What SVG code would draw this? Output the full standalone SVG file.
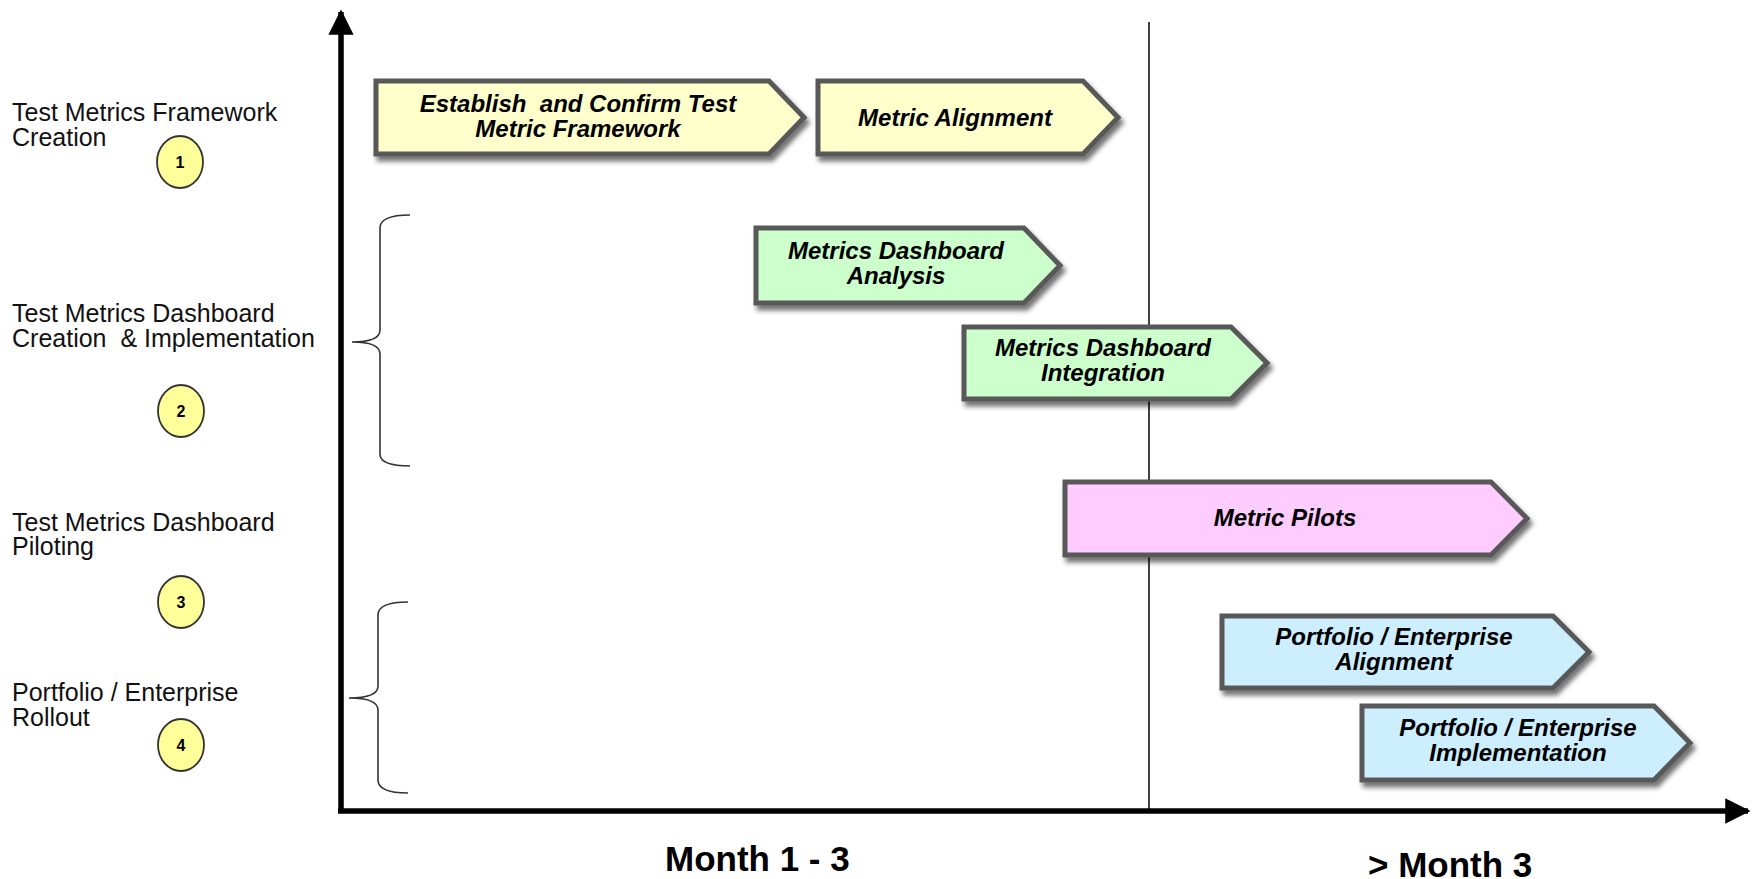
<svg xmlns="http://www.w3.org/2000/svg" width="1758" height="879" viewBox="0 0 1758 879">
<defs>
<filter id="sh" x="-10%" y="-20%" width="130%" height="160%">
<feGaussianBlur in="SourceAlpha" stdDeviation="2.5"/>
<feOffset dx="3" dy="5" result="b"/>
<feComponentTransfer><feFuncA type="linear" slope="0.55"/></feComponentTransfer>
<feMerge><feMergeNode/><feMergeNode in="SourceGraphic"/></feMerge>
</filter>
<marker id="ah" viewBox="0 0 10 10" refX="9" refY="5" markerWidth="4.6" markerHeight="4.6" orient="auto" markerUnits="strokeWidth">
<path d="M0,0 L10,5 L0,10 z" fill="#000"/>
</marker>
</defs>
<style>
.lbl{font-family:"Liberation Sans",Arial,sans-serif;font-size:25px;fill:#111}
.bt{font-family:"Liberation Sans",Arial,sans-serif;font-size:24px;font-weight:bold;font-style:italic;fill:#000;text-anchor:middle}
.box{stroke:#595959;stroke-width:5;stroke-linejoin:miter;filter:url(#sh)}
.y{fill:#ffffcc}.g{fill:#ccffcc}.p{fill:#ffccff}.b{fill:#cceeff}
.num{fill:#ffff99;stroke:#333;stroke-width:1.8}
.nt{font-family:"Liberation Sans",Arial,sans-serif;font-size:16px;font-weight:bold;fill:#000;text-anchor:middle}
.mo{font-family:"Liberation Sans",Arial,sans-serif;font-size:35px;font-weight:bold;fill:#000}
.br{fill:none;stroke:#333;stroke-width:1.6}
</style>
<rect width="1758" height="879" fill="#fff"/>

<g id="connectors">
<line x1="1149" y1="22" x2="1149" y2="811" stroke="#000" stroke-width="1.5"/>
<line x1="341" y1="811" x2="341" y2="12" stroke="#000" stroke-width="5.5" marker-end="url(#ah)"/>
<line x1="338" y1="811" x2="1748" y2="811" stroke="#000" stroke-width="5.5" marker-end="url(#ah)"/>
<path class="br" d="M410,215 Q380,215 380,228 L380,330 Q380,342 352,342 Q380,342 380,354 L380,454 Q380,466 410,466"/>
<path class="br" d="M408,602 Q378,602 378,615 L378,686 Q378,698 349,698 Q378,698 378,710 L378,780 Q378,793 408,793"/>
</g>

<g id="label1"><text class="lbl" x="12" y="121">Test Metrics Framework</text><text class="lbl" x="12" y="146">Creation</text></g>
<g id="label2"><text class="lbl" x="12" y="322">Test Metrics Dashboard</text><text class="lbl" x="12" y="347" xml:space="preserve">Creation  &amp; Implementation</text></g>
<g id="label3"><text class="lbl" x="12" y="531">Test Metrics Dashboard</text><text class="lbl" x="12" y="555">Piloting</text></g>
<g id="label4"><text class="lbl" x="12" y="701">Portfolio / Enterprise</text><text class="lbl" x="12" y="726">Rollout</text></g>

<g id="num1"><ellipse class="num" cx="180" cy="162" rx="23" ry="26"/><text class="nt" x="180" y="168">1</text></g>
<g id="num2"><ellipse class="num" cx="181" cy="411" rx="23" ry="26"/><text class="nt" x="181" y="417">2</text></g>
<g id="num3"><ellipse class="num" cx="181" cy="602" rx="23" ry="26"/><text class="nt" x="181" y="608">3</text></g>
<g id="num4"><ellipse class="num" cx="181" cy="745" rx="23" ry="26"/><text class="nt" x="181" y="751">4</text></g>

<g id="box1"><polygon class="box y" points="376,81 769,81 804,117.5 769,154 376,154"/>
<text class="bt" x="578" y="112" xml:space="preserve">Establish  and Confirm Test</text><text class="bt" x="578" y="137">Metric Framework</text></g>
<g id="box2"><polygon class="box y" points="818,81 1083,81 1118,117.5 1083,154 818,154"/>
<text class="bt" x="955" y="126">Metric Alignment</text></g>
<g id="box3"><polygon class="box g" points="756,228 1024,228 1060,265.5 1024,303 756,303"/>
<text class="bt" x="896" y="259">Metrics Dashboard</text><text class="bt" x="896" y="284">Analysis</text></g>
<g id="box4"><polygon class="box g" points="964,327 1231,327 1267,363 1231,399 964,399"/>
<text class="bt" x="1103" y="356">Metrics Dashboard</text><text class="bt" x="1103" y="381">Integration</text></g>
<g id="box5"><polygon class="box p" points="1065,482 1491,482 1527,518.5 1491,555 1065,555"/>
<text class="bt" x="1285" y="526">Metric Pilots</text></g>
<g id="box6"><polygon class="box b" points="1222,616 1553,616 1589,652 1553,688 1222,688"/>
<text class="bt" x="1394" y="645">Portfolio / Enterprise</text><text class="bt" x="1394" y="670">Alignment</text></g>
<g id="box7"><polygon class="box b" points="1362,706 1654,706 1690,743 1654,780 1362,780"/>
<text class="bt" x="1518" y="736">Portfolio / Enterprise</text><text class="bt" x="1518" y="761">Implementation</text></g>

<g id="axis-labels">
<text class="mo" x="665" y="871">Month 1 - 3</text>
<text class="mo" x="1368" y="877">&gt; Month 3</text>
</g>
</svg>
